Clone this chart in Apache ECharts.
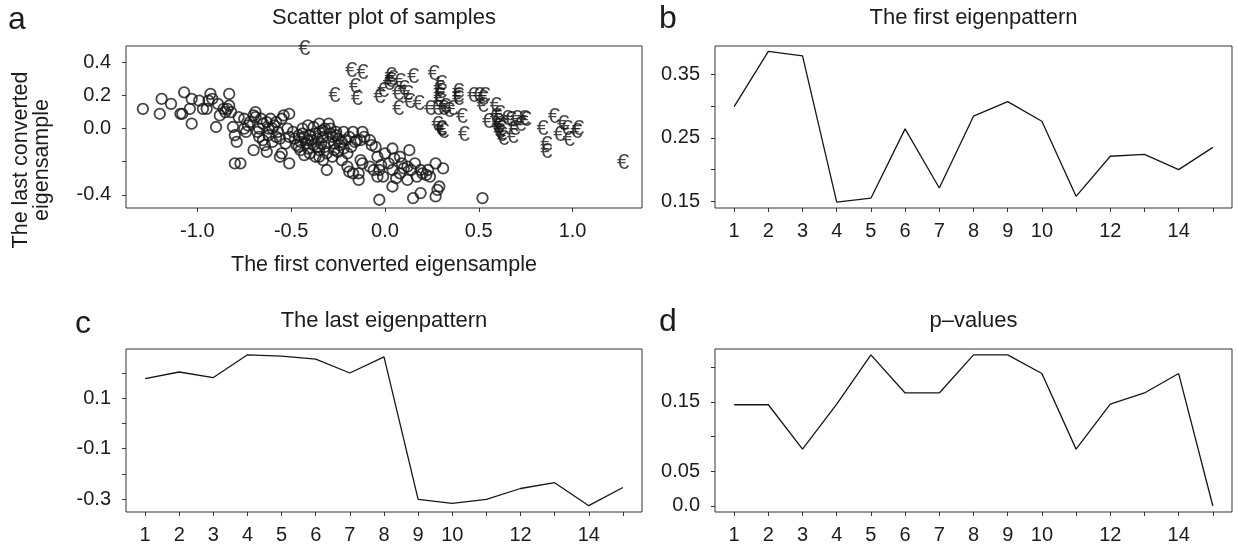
<!DOCTYPE html>
<html>
<head>
<meta charset="utf-8">
<script src="https://cdn.jsdelivr.net/npm/echarts@6.0.0/dist/echarts.min.js"></script>
<style>
  html, body { margin: 0; padding: 0; background: #fff; }
  #chart { width: 1237px; height: 550px; }
</style>
</head>
<body>
<div id="chart"></div>
<script>
// --- data ---
const positions = [1, 2, 3, 4, 5, 6, 7, 8, 9, 10, 11, 12, 13, 14, 15];
const positionLabels = [1, 2, 3, 4, 5, 6, 7, 8, 9, 10, 12, 14];

const firstPattern = [0.299, 0.386, 0.379, 0.149, 0.155, 0.264, 0.171, 0.284, 0.307, 0.276, 0.158, 0.221, 0.224, 0.200, 0.235];
const lastPattern = [0.177, 0.203, 0.181, 0.271, 0.266, 0.254, 0.199, 0.263, -0.301, -0.317, -0.301, -0.258, -0.235, -0.326, -0.254];
const pValues = [0.146, 0.146, 0.082, 0.147, 0.218, 0.163, 0.163, 0.218, 0.218, 0.191, 0.082, 0.147, 0.163, 0.191, 0.0];

// samples of the first group (drawn as "o")
const circleSamples = [
  [-1.29, 0.12], [-1.19, 0.18], [-1.20, 0.09], [-1.14, 0.15], [-1.09, 0.09], [-1.08, 0.09], [-1.07, 0.22],
  [-1.04, 0.12], [-1.03, 0.03], [-1.03, 0.18], [-0.99, 0.17], [-0.97, 0.12], [-0.95, 0.12], [-0.93, 0.21],
  [-0.94, 0.17], [-0.92, 0.18], [-0.90, 0.01], [-0.89, 0.15], [-0.88, 0.08], [-0.85, 0.10], [-0.84, 0.12],
  [-0.86, 0.12], [-0.83, 0.21], [-0.83, 0.14], [-0.82, 0.10], [-0.81, 0.01], [-0.80, -0.04], [-0.79, -0.08],
  [-0.80, -0.21], [-0.77, -0.21], [-0.78, 0.07], [-0.75, 0.06], [-0.75, 0.00], [-0.73, 0.02], [-0.70, -0.13],
  [-0.69, 0.10], [-0.69, 0.07], [-0.67, 0.00], [-0.67, -0.05], [-0.65, -0.07], [-0.64, -0.10], [-0.63, -0.14],
  [-0.65, 0.03], [-0.61, 0.06], [-0.60, 0.00], [-0.58, -0.05], [-0.59, 0.02], [-0.55, 0.06], [-0.54, 0.08],
  [-0.51, 0.09], [-0.53, -0.09], [-0.55, -0.15], [-0.56, -0.17], [-0.51, -0.21], [-0.52, 0.00], [-0.51, -0.05],
  [-0.72, 0.04], [-0.70, 0.08], [-0.66, 0.06], [-0.62, 0.00], [-0.62, -0.04], [-0.60, -0.08], [-0.57, -0.02],
  [-0.56, -0.06], [-0.63, 0.04], [-0.68, -0.02], [-0.74, -0.02], [-0.58, 0.04],
  [-0.49, -0.02], [-0.48, -0.06], [-0.47, -0.10], [-0.46, -0.04], [-0.45, -0.08], [-0.44, 0.00], [-0.43, -0.05],
  [-0.42, -0.09], [-0.41, 0.02], [-0.41, -0.12], [-0.40, -0.04], [-0.39, -0.07], [-0.38, -0.10], [-0.37, -0.03],
  [-0.36, -0.06], [-0.35, 0.03], [-0.35, -0.13], [-0.34, -0.09], [-0.33, -0.01], [-0.33, -0.05], [-0.32, -0.11],
  [-0.31, -0.15], [-0.30, 0.03], [-0.30, -0.08], [-0.29, -0.03], [-0.29, 0.00], [-0.28, -0.05], [-0.27, -0.09],
  [-0.27, -0.13], [-0.26, -0.02], [-0.25, -0.06], [-0.24, -0.10], [-0.23, -0.19], [-0.22, -0.02], [-0.21, -0.07],
  [-0.20, -0.23], [-0.19, -0.05], [-0.19, -0.26], [-0.18, -0.11], [-0.17, -0.02], [-0.17, -0.27], [-0.16, -0.08],
  [-0.15, -0.07], [-0.14, -0.27], [-0.14, -0.31], [-0.13, -0.19], [-0.13, -0.07], [-0.12, -0.02], [-0.12, -0.21],
  [-0.11, -0.05], [-0.35, -0.17], [-0.33, -0.19], [-0.31, -0.25], [-0.45, -0.13], [-0.43, -0.16], [-0.40, -0.15],
  [-0.37, -0.17], [-0.38, 0.01], [-0.44, -0.03], [-0.46, -0.11], [-0.28, -0.17], [-0.25, -0.14], [-0.22, -0.12],
  [-0.20, -0.15], [-0.35, -0.02], [-0.32, 0.00], [-0.41, -0.07], [-0.36, -0.11], [-0.26, -0.04], [-0.23, -0.08],
  [-0.08, -0.23], [-0.06, -0.25], [-0.04, -0.29], [-0.05, -0.11], [-0.08, -0.07], [-0.07, -0.10], [-0.04, -0.17],
  [-0.03, -0.25], [-0.01, -0.29], [-0.02, -0.22], [-0.03, -0.43], [0.04, -0.12], [0.05, -0.18], [0.04, -0.25],
  [0.04, -0.35], [0.08, -0.17], [0.09, -0.21], [0.08, -0.27], [0.12, -0.23], [0.13, -0.13], [0.14, -0.25],
  [0.12, -0.31], [0.17, -0.29], [0.19, -0.25], [0.20, -0.27], [0.22, -0.28], [0.24, -0.29], [0.27, -0.21],
  [0.31, -0.24], [0.29, -0.35], [0.28, -0.37], [0.27, -0.41], [0.19, -0.39], [0.15, -0.42], [0.52, -0.42],
  [0.02, -0.21], [0.10, -0.24], [0.16, -0.21], [0.06, -0.30], [0.23, -0.25], [0.00, -0.15]
];

// samples of the second group (drawn as "€")
const euroSamples = [
  [-0.43, 0.48], [-0.18, 0.35], [-0.12, 0.34], [-0.27, 0.20], [-0.16, 0.25], [-0.15, 0.18], [-0.03, 0.19],
  [-0.01, 0.23], [0.03, 0.32], [0.03, 0.29], [0.02, 0.27], [0.08, 0.28], [0.15, 0.31], [0.07, 0.21],
  [0.07, 0.12], [0.12, 0.21], [0.13, 0.16], [0.18, 0.15], [0.26, 0.33], [0.30, 0.27], [0.29, 0.24],
  [0.29, 0.20], [0.29, 0.17], [0.24, 0.12], [0.28, 0.12], [0.31, 0.12], [0.34, 0.11], [0.36, 0.12],
  [0.39, 0.22], [0.39, 0.20], [0.39, 0.18], [0.41, 0.07], [0.28, 0.02], [0.30, 0.00], [0.31, -0.02],
  [0.42, -0.04], [0.47, 0.20], [0.50, 0.20], [0.53, 0.20], [0.52, 0.18], [0.52, 0.14], [0.59, 0.14],
  [0.55, 0.04], [0.59, 0.07], [0.60, 0.04], [0.61, 0.02], [0.62, 0.00], [0.62, -0.04], [0.63, -0.06],
  [0.61, 0.09], [0.65, 0.06], [0.67, 0.05], [0.70, 0.06], [0.74, 0.06], [0.75, 0.05], [0.72, 0.02],
  [0.69, 0.00], [0.68, -0.05], [0.84, 0.00], [0.86, -0.10], [0.86, -0.14], [0.90, 0.07], [0.95, 0.03],
  [0.93, -0.04], [0.97, 0.00], [0.98, -0.07], [1.02, -0.02], [1.03, 0.00], [1.27, -0.21],
  [0.30, 0.22], [0.32, 0.13], [0.30, -0.01], [0.60, 0.01], [0.61, -0.02], [0.04, 0.30], [0.10, 0.24]
];

const scatterXTicks = [-1.0, -0.5, 0.0, 0.5, 1.0];
const scatterYTicks = [-0.4, -0.2, 0.0, 0.2, 0.4];
const scatterYLabels = [-0.4, 0.0, 0.2, 0.4];
const firstTicks = [0.15, 0.20, 0.25, 0.30, 0.35];
const firstLabels = [0.15, 0.25, 0.35];
const lastTicks = [-0.3, -0.2, -0.1, 0.0, 0.1, 0.2];
const lastLabels = [-0.3, -0.1, 0.1];
const pTicks = [0.0, 0.05, 0.10, 0.15, 0.20];
const pLabels = [0.0, 0.05, 0.15];

// --- drawing ---
const FONT = '"Liberation Sans", Arial, Helvetica, sans-serif';
const INK = '#161616';
const chart = echarts.init(document.getElementById('chart'));

function makeAxis(dim, gridIndex, min, max, ticks, labels, fmt) {
  return {
    type: 'value',
    gridIndex: gridIndex,
    min: min,
    max: max,
    axisLine: { show: false, onZero: false },
    splitLine: { show: false },
    axisTick: { show: true, length: 4, lineStyle: { color: '#333', width: 1 }, customValues: ticks },
    axisLabel: {
      show: true,
      customValues: labels,
      formatter: fmt,
      fontFamily: FONT,
      fontSize: 20,
      color: '#1c1c1c',
      margin: dim === 'x' ? 13 : 15
    }
  };
}

const fmt1 = v => v.toFixed(1);
const fmt2 = v => v.toFixed(2);
const fmtInt = v => String(Math.round(v));
const fmtP = v => (v === 0 ? '0.0' : v.toFixed(2));

const gridBase = { show: true, borderColor: '#333', borderWidth: 1, backgroundColor: 'transparent', outerBoundsMode: 'none', containLabel: false };

function textEl(str, x, y, size, align, rot) {
  return {
    type: 'text',
    x: x, y: y,
    rotation: rot || 0,
    style: { text: str, font: size + 'px ' + FONT, fill: '#1c1c1c', align: align || 'center', verticalAlign: 'middle' }
  };
}

const option = {
  animation: false,
  backgroundColor: '#fff',
  grid: [
    Object.assign({ left: 126, top: 46, width: 516, height: 162 }, gridBase),
    Object.assign({ left: 715, top: 46, width: 517, height: 162 }, gridBase),
    Object.assign({ left: 126, top: 349, width: 516, height: 163 }, gridBase),
    Object.assign({ left: 715, top: 349, width: 517, height: 163 }, gridBase)
  ],
  xAxis: [
    makeAxis('x', 0, -1.38, 1.37, scatterXTicks, scatterXTicks, fmt1),
    makeAxis('x', 1, 0.44, 15.56, positions, positionLabels, fmtInt),
    makeAxis('x', 2, 0.44, 15.56, positions, positionLabels, fmtInt),
    makeAxis('x', 3, 0.44, 15.56, positions, positionLabels, fmtInt)
  ],
  yAxis: [
    makeAxis('y', 0, -0.48, 0.50, scatterYTicks, scatterYLabels, fmt1),
    makeAxis('y', 1, 0.1396, 0.3944, firstTicks, firstLabels, fmt2),
    makeAxis('y', 2, -0.351, 0.294, lastTicks, lastLabels, fmt1),
    makeAxis('y', 3, -0.0087, 0.2264, pTicks, pLabels, fmtP)
  ],
  series: [
    {
      type: 'scatter', xAxisIndex: 0, yAxisIndex: 0, clip: false,
      data: circleSamples,
      symbol: 'circle', symbolSize: 10.5,
      itemStyle: { color: 'rgba(0,0,0,0)', borderColor: INK, borderWidth: 1.8 }
    },
    {
      type: 'scatter', xAxisIndex: 0, yAxisIndex: 0, clip: false,
      data: euroSamples,
      symbol: 'circle', symbolSize: 1,
      itemStyle: { color: 'rgba(0,0,0,0)' },
      label: { show: true, position: 'inside', formatter: '€', fontFamily: FONT, fontSize: 22, color: INK }
    },
    {
      type: 'line', xAxisIndex: 1, yAxisIndex: 1, showSymbol: false,
      data: positions.map((p, i) => [p, firstPattern[i]]),
      lineStyle: { color: INK, width: 1.3 }
    },
    {
      type: 'line', xAxisIndex: 2, yAxisIndex: 2, showSymbol: false,
      data: positions.map((p, i) => [p, lastPattern[i]]),
      lineStyle: { color: INK, width: 1.3 }
    },
    {
      type: 'line', xAxisIndex: 3, yAxisIndex: 3, showSymbol: false,
      data: positions.map((p, i) => [p, pValues[i]]),
      lineStyle: { color: INK, width: 1.3 }
    }
  ],
  graphic: [
    textEl('a', 8, 20, 32, 'left'),
    textEl('b', 659, 19, 32, 'left'),
    textEl('c', 75, 324, 32, 'left'),
    textEl('d', 659, 322, 32, 'left'),
    textEl('Scatter plot of samples', 384, 18, 22),
    textEl('The first eigenpattern', 973.5, 18, 22),
    textEl('The last eigenpattern', 384, 321, 22),
    textEl('p\u2013values', 973.5, 321, 22),
    textEl('The first converted eigensample', 384, 265.5, 21.5),
    textEl('The last converted', 21, 160, 21.5, 'center', Math.PI / 2),
    textEl('eigensample', 42, 160, 21.5, 'center', Math.PI / 2)
  ]
};

chart.setOption(option);
</script>
</body>
</html>
